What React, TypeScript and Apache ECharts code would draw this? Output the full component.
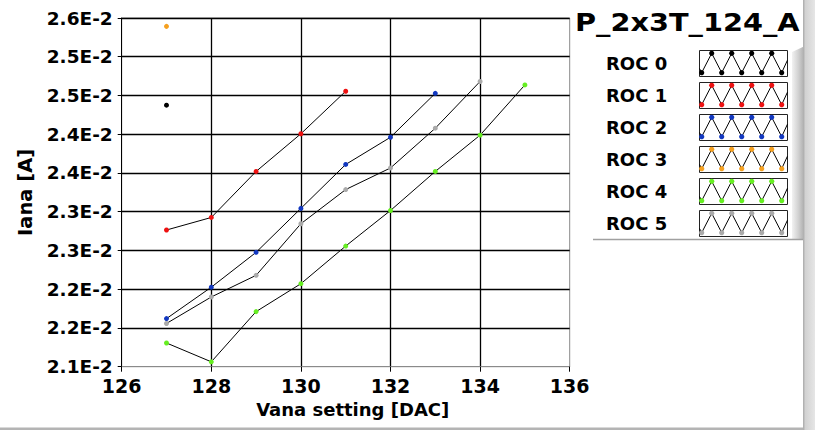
import React, { useEffect, useRef } from "react";
import * as echarts from "echarts";

const vanaSettings = [127, 128, 129, 130, 131, 132, 133, 134, 135];
const rocNames = ["ROC 0", "ROC 1", "ROC 2", "ROC 3", "ROC 4", "ROC 5"];
const rocColors = ["#000000", "#ee1111", "#1238c0", "#f5a020", "#66ee22", "#aaaaaa"];

const roc0 = [0.02475];
const roc1 = [0.02296, 0.02314, 0.0238, 0.02434, 0.02495];
const roc2 = [0.02169, 0.02214, 0.02264, 0.02327, 0.0239, 0.02429, 0.02492];
const roc3 = [0.02588];
const roc4 = [0.02134, 0.02107, 0.02179, 0.02219, 0.02273, 0.02324, 0.0238, 0.02432, 0.02504];
const roc5 = [0.02162, 0.022, 0.02231, 0.02305, 0.02354, 0.02385, 0.02442, 0.02509];
const rocValues = [roc0, roc1, roc2, roc3, roc4, roc5];

const xMin = 126;
const xMax = 136;
const xStep = 2;
const yMin = 0.021;
const yMax = 0.026;
const yTickLabels = [
  "2.1E-2", "2.2E-2", "2.2E-2", "2.3E-2", "2.3E-2",
  "2.4E-2", "2.4E-2", "2.5E-2", "2.5E-2", "2.6E-2",
];
const chartTitle = "P_2x3T_124_A";
const xTitle = "Vana setting [DAC]";
const yTitle = "Iana [A]";

const FONT = '"DejaVu Sans", Verdana, sans-serif';

function legendGraphics() {
  const els: any[] = [];
  rocNames.forEach((name, i) => {
    const top = 50.5 + 32 * i;
    els.push({
      type: "text",
      x: 606,
      y: top + 13,
      style: { text: name, fontSize: 18, fontWeight: "bold", fontFamily: FONT, fill: "#000", align: "left", verticalAlign: "middle" },
    });
    els.push({
      type: "rect",
      shape: { x: 699.5, y: top, width: 88, height: 26 },
      style: { fill: "#fff", stroke: "#222", lineWidth: 1 },
    });
    const pts: number[][] = [[699.5, top + 18]];
    const dots: number[][] = [];
    for (let k = 0; k < 9; k++) {
      const px = 701.7 + 10 * k;
      const py = k % 2 === 0 ? top + 22.2 : top + 2.8;
      pts.push([px, py]);
      dots.push([px, py]);
    }
    pts.push([787.5, top + 9.6]);
    els.push({ type: "polyline", shape: { points: pts }, style: { stroke: "#000", lineWidth: 1, fill: null } });
    dots.forEach(([dx, dy]) => {
      els.push({ type: "circle", shape: { cx: dx, cy: dy, r: 2.6 }, style: { fill: rocColors[i] } });
    });
  });
  return els;
}

export default function App() {
  const ref = useRef<HTMLDivElement>(null);
  useEffect(() => {
    if (!ref.current) return;
    const chart = echarts.init(ref.current, undefined, { renderer: "svg" });
    const labelStyle = { fontSize: 18, fontWeight: "bold" as const, fontFamily: FONT, color: "#000" };
    chart.setOption({
      animation: false,
      backgroundColor: "#fff",
      grid: {
        left: 121.7,
        top: 18,
        width: 448,
        height: 348.7,
        show: true,
        backgroundColor: "#fff",
        borderColor: "#8a8a8a",
        borderWidth: 1,
        containLabel: false,
        outerBoundsMode: "none",
      },
      xAxis: {
        type: "value",
        min: xMin,
        max: xMax,
        interval: xStep,
        axisLine: { show: true, lineStyle: { color: "#8a8a8a", width: 1 } },
        axisTick: { show: true, length: 5, lineStyle: { color: "#000", width: 1 } },
        axisLabel: { ...labelStyle, fontSize: 19, margin: 10 },
        splitLine: { show: true, showMinLine: false, showMaxLine: false, lineStyle: { color: "#000", width: 1.3 } },
        name: xTitle,
        nameLocation: "middle",
        nameGap: 33,
        nameTextStyle: { ...labelStyle, padding: [0, 0, 0, 14] },
      },
      yAxis: [
        { type: "value", min: yMin, max: yMax, show: false },
        {
          type: "value",
          min: 0,
          max: yTickLabels.length - 1,
          interval: 1,
          position: "left",
          axisLine: { show: true, lineStyle: { color: "#000", width: 1 } },
          axisTick: { show: true, length: 4, lineStyle: { color: "#000", width: 1 } },
          axisLabel: {
            ...labelStyle,
            fontSize: 18.5,
            margin: 9,
            padding: [4, 0, 0, 0],
            formatter: (v: number) => yTickLabels[Math.round(v)],
          },
          splitLine: { show: true, showMinLine: false, lineStyle: { color: "#000", width: 1.3 } },
          name: yTitle,
          nameLocation: "middle",
          nameGap: 80,
          nameTextStyle: { ...labelStyle, fontSize: 19.5 },
        },
      ],
      series: rocValues.map((vals, i) => ({
        name: rocNames[i],
        type: "line",
        xAxisIndex: 0,
        yAxisIndex: 0,
        data: vals.map((v, k) => [vanaSettings[k], v]),
        symbol: "circle",
        symbolSize: 5,
        showSymbol: true,
        lineStyle: { color: "#000", width: 1 },
        itemStyle: { color: rocColors[i] },
        z: 5,
      })),
      graphic: [
        {
          type: "text",
          x: 575,
          y: 22,
          scaleX: 1.15,
          style: { text: chartTitle, fontSize: 25, fontWeight: "bold", fontFamily: FONT, fill: "#000", align: "left", verticalAlign: "middle" },
        },
        {
          type: "polygon",
          shape: { points: [[792, 52], [805, 46], [805, 239.5], [792, 239.5]] },
          style: {
            fill: new echarts.graphic.LinearGradient(0, 0, 1, 0, [
              { offset: 0, color: "#f2f2f2" },
              { offset: 0.5, color: "#d0d0d0" },
              { offset: 1, color: "#a8a8a8" },
            ]),
          },
        },
        { type: "line", shape: { x1: 593, y1: 239.5, x2: 805, y2: 239.5 }, style: { stroke: "#a0a0a0", lineWidth: 1.5 } },
        ...legendGraphics(),
        {
          type: "rect",
          shape: { x: 803, y: 0, width: 12, height: 430 },
          style: {
            fill: new echarts.graphic.LinearGradient(0, 0, 1, 0, [
              { offset: 0, color: "#a8a8a8" },
              { offset: 0.2, color: "#d2d2d2" },
              { offset: 1, color: "#e6e6e6" },
            ]),
          },
        },
        { type: "rect", shape: { x: 0, y: 427.5, width: 803, height: 2.5 }, style: { fill: "#b4b4b4" } },
      ],
    });
    return () => chart.dispose();
  }, []);
  return (
    <div
      ref={ref}
      style={{ position: "fixed", left: 0, top: 0, width: 815, height: 430, background: "#fff" }}
    />
  );
}
